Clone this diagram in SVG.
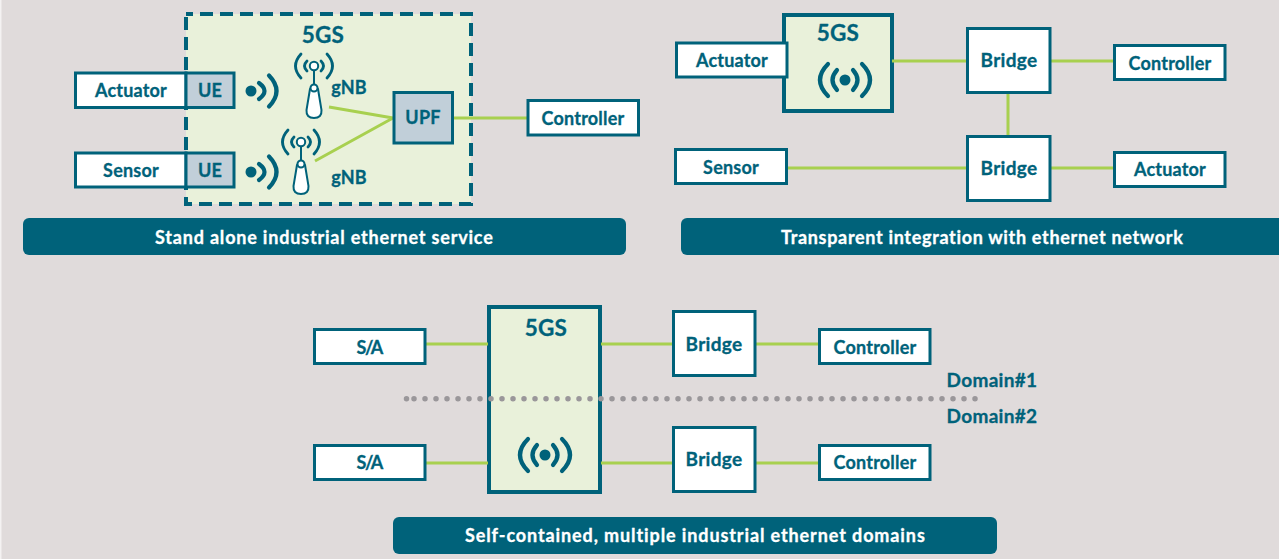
<svg xmlns="http://www.w3.org/2000/svg" width="1279" height="559" viewBox="0 0 1279 559">
<style>
.b{fill:#fff;stroke:#00627a;stroke-width:3}
.t{font-family:Lato,"Open Sans",sans-serif;font-weight:700;fill:#00627a;text-anchor:middle;font-size:18px;letter-spacing:.2px;stroke:#00627a;stroke-width:.3}
.m{font-size:19px;letter-spacing:.3px}
.h{font-size:22.500px}
.w{fill:#fff;stroke:#fff;font-size:18px}
.g{fill:#e9f1da;stroke:#00627a;stroke-width:4}
.s{fill:#c1cfd9;stroke:#00627a;stroke-width:3}
.c{stroke:#a8d04f;stroke-width:3;fill:none}
.a{fill:none;stroke:#00627a;stroke-width:4.200;stroke-linecap:round}
.a2{fill:none;stroke:#00627a;stroke-width:2.800;stroke-linecap:round}
.bar{fill:#00627a}
</style>
<defs>
<g id="wave"><circle cx="0" cy="0" r="5.500" fill="#00627a"/><path class="a" d="M8-8Q19 0 8 8M18-15.500Q33 0 18 15.500"/></g>
<g id="wave2"><circle cx="0" cy="0" r="5.500" fill="#00627a"/><path class="a" d="M8-10Q17 0 8 10M17-16Q33 0 17 16M-8-10Q-17 0-8 10M-17-16Q-33 0-17 16"/></g>
<g id="ant"><path class="a2" d="M7-5Q12 0 7 5M13-12Q24 0 13 12M-7-5Q-12 0-7 5M-13-12Q-24 0-13 12"/><path d="M0 4V20" stroke="#00627a" stroke-width="2"/><circle r="4.200" fill="#fff" stroke="#00627a" stroke-width="2"/><path d="M-4 23Q0 17 4 23L7.500 44Q8 52 0 52Q-8 52-7.500 44Z" fill="#fff" stroke="#00627a" stroke-width="2"/><circle cy="22" r="3.500" fill="#fff" stroke="#00627a" stroke-width="2"/></g>
</defs>
<rect width="1279" height="559" fill="#e0dbdb"/>
<rect x="0" width="1.500" height="559" fill="#f4f2f2"/>
<g id="n5gs-a"><rect x="186" y="14" width="285" height="190" fill="#e9f1da"/><rect x="186" y="14" width="285" height="190" fill="none" stroke="#00627a" stroke-width="4" stroke-dasharray="13 7" stroke-dashoffset="6"/><text class="t h" x="323" y="43">5GS</text></g>
<g id="n5gs-b"><rect class="g" x="784" y="15" width="108" height="96"/><text class="t h" x="838" y="41">5GS</text><use href="#wave2" x="845" y="80"/></g>
<g id="n5gs-c"><rect class="g" x="489" y="307" width="111" height="185"/><text class="t h" x="546" y="336">5GS</text><use href="#wave2" x="545" y="455"/></g>
<g id="connectors">
<path class="c" d="M329 107L393 118M315 161L393 118M452 118H528"/>
<path class="c" d="M892 61H967M1050 61H1114M1008 93V136M787 168H967M1050 168H1114"/>
<path class="c" d="M425 344H488M601 344H673M755 344H819M425 463H488M601 463H673M755 463H819"/>
</g>
<g id="actuator-a"><rect class="b" x="75.500" y="73" width="110.500" height="34.500"/><text class="t" x="131" y="97">Actuator</text></g>
<g id="ue-a"><rect class="s" x="186" y="73" width="48" height="34.500"/><text class="t" x="210" y="97">UE</text></g>
<g id="sensor-a"><rect class="b" x="75.500" y="153" width="110.500" height="34"/><text class="t" x="131" y="177">Sensor</text></g>
<g id="ue-b"><rect class="s" x="186" y="153" width="48" height="34"/><text class="t" x="210" y="177">UE</text></g>
<g id="wave-a"><use href="#wave" x="251" y="91"/></g>
<g id="wave-b"><use href="#wave" x="251" y="172"/></g>
<g id="gnb-a"><use href="#ant" x="314" y="66"/><text class="t" x="349" y="94">gNB</text></g>
<g id="gnb-b"><use href="#ant" x="301" y="142"/><text class="t" x="349" y="184">gNB</text></g>
<g id="upf"><rect class="s" x="394" y="92.500" width="58.500" height="50.500"/><text class="t" x="423" y="124">UPF</text></g>
<g id="controller-a"><rect class="b" x="528" y="100.500" width="110.500" height="34.500"/><text class="t" x="583" y="125">Controller</text></g>
<g id="banner-a"><rect class="bar" x="23" y="218" width="603" height="37" rx="6"/><text class="t w" x="324" y="244" textLength="338">Stand alone industrial ethernet service</text></g>
<g id="actuator-b"><rect class="b" x="676.500" y="43" width="110.500" height="34"/><text class="t" x="732" y="67">Actuator</text></g>
<g id="bridge-a"><rect class="b" x="967.500" y="28.500" width="82.500" height="64"/><text class="t m" x="1009" y="67">Bridge</text></g>
<g id="controller-b"><rect class="b" x="1114.500" y="45.500" width="110.500" height="34"/><text class="t" x="1170" y="70">Controller</text></g>
<g id="bridge-b"><rect class="b" x="967.500" y="136.500" width="82.500" height="64"/><text class="t m" x="1009" y="175">Bridge</text></g>
<g id="sensor-b"><rect class="b" x="675.500" y="149.500" width="111" height="34"/><text class="t" x="731" y="174">Sensor</text></g>
<g id="actuator-c"><rect class="b" x="1114.500" y="152.500" width="110.500" height="34"/><text class="t" x="1170" y="176">Actuator</text></g>
<g id="banner-b"><path class="bar" d="M1279 218H687a6 6 0 0 0-6 6V249a6 6 0 0 0 6 6H1279Z"/><text class="t w" x="982" y="244" textLength="402">Transparent integration with ethernet network</text></g>
<g id="sa-a"><rect class="b" x="314.500" y="329.500" width="110.500" height="34"/><text class="t" x="370" y="354" textLength="27">S/A</text></g>
<g id="bridge-c"><rect class="b" x="673.500" y="311.500" width="81.500" height="64"/><text class="t m" x="714" y="351">Bridge</text></g>
<g id="controller-c"><rect class="b" x="819.500" y="329.500" width="110.500" height="34"/><text class="t" x="875" y="354">Controller</text></g>
<g id="sa-b"><rect class="b" x="314.500" y="445.500" width="110.500" height="34"/><text class="t" x="370" y="469" textLength="27">S/A</text></g>
<g id="bridge-d"><rect class="b" x="673.500" y="427.500" width="81.500" height="64"/><text class="t m" x="714" y="466">Bridge</text></g>
<g id="controller-d"><rect class="b" x="819.500" y="445.500" width="110.500" height="34"/><text class="t" x="875" y="469">Controller</text></g>
<path d="M406.500 398.700H407M414 398.700H980" stroke="#9a979a" stroke-width="5.500" stroke-linecap="round" stroke-dasharray="0 11" fill="none"/>
<text class="t m" x="992" y="387">Domain#1</text>
<text class="t m" x="992" y="423">Domain#2</text>
<g id="banner-c"><rect class="bar" x="393" y="517" width="604" height="37" rx="6"/><text class="t w" x="695" y="542" textLength="460">Self-contained, multiple industrial ethernet domains</text></g>
</svg>
